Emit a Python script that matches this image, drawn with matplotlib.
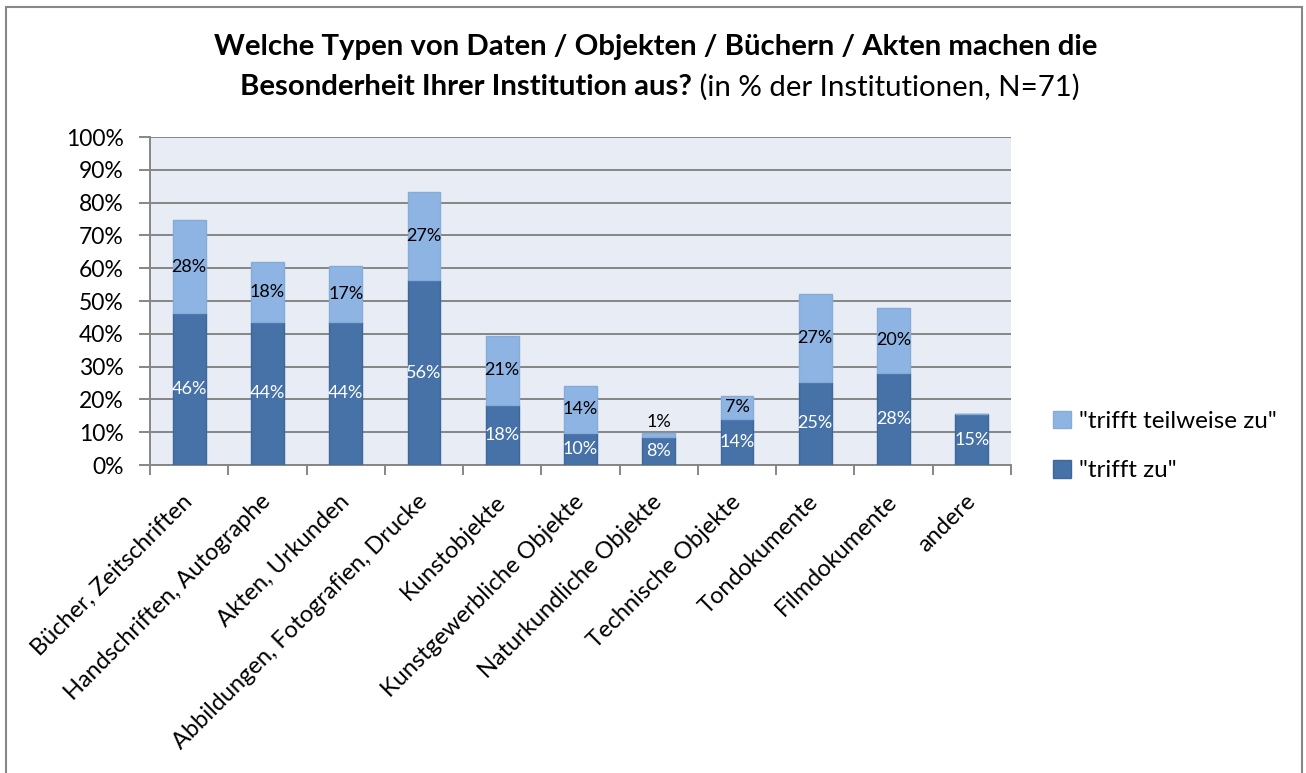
import matplotlib
matplotlib.use("Agg")
import matplotlib.pyplot as plt
from matplotlib.patches import Rectangle
import numpy as np

plt.rcParams['font.family'] = ['Lato', 'DejaVu Sans']

categories = ["Bücher, Zeitschriften", "Handschriften, Autographe", "Akten, Urkunden",
              "Abbildungen, Fotografien, Drucke", "Kunstobjekte", "Kunstgewerbliche Objekte",
              "Naturkundliche Objekte", "Technische Objekte", "Tondokumente",
              "Filmdokumente", "andere"]
trifft_zu = [46.4, 43.7, 43.7, 56.3, 18.3, 9.9, 8.4, 14.1, 25.4, 28.2, 15.4]
trifft_teilweise = [28.2, 18.3, 16.9, 26.8, 21.1, 14.1, 1.4, 7.0, 26.8, 19.7, 0.0]
yticks = [0, 10, 20, 30, 40, 50, 60, 70, 80, 90, 100]

dark = "#4672A8"
light = "#8EB4E3"
W, H = 1306, 773
fig = plt.figure(figsize=(W / 100, H / 100), dpi=100)
fig.patch.set_facecolor("white")

def fx(px):
    return px / W

def fy(py):
    return 1 - py / H

ax = fig.add_axes([fx(150), fy(465), fx(1011) - fx(150), fy(137) - fy(465)])
ax.set_facecolor("#E8ECF4")
x = np.arange(len(categories))
bw = 0.42
b1 = ax.bar(x, trifft_zu, bw, color=dark, edgecolor="#3F679A", linewidth=1, zorder=3,
            label='"trifft zu"')
b2 = ax.bar(x, trifft_teilweise, bw, bottom=trifft_zu, color=light, edgecolor="#86ABD8",
            linewidth=1, zorder=3, label='"trifft teilweise zu"')

for i in range(len(categories)):
    v1, v2 = trifft_zu[i], trifft_teilweise[i]
    ax.text(x[i], v1 / 2, f"{v1:.0f}%", ha="center", va="center", color="white",
            fontsize=13, zorder=4)
    if v2 > 0:
        if v2 < 3:
            ax.text(x[i], v1 + v2 + 1.0, f"{v2:.0f}%", ha="center", va="bottom",
                    color="black", fontsize=13, zorder=4)
        else:
            ax.text(x[i], v1 + v2 / 2, f"{v2:.0f}%", ha="center", va="center",
                    color="black", fontsize=13, zorder=4)

ax.set_xlim(-0.5, len(categories) - 0.5)
ax.set_ylim(0, 100)
ax.set_yticks(yticks)
ax.set_yticklabels([f"{t}%" for t in yticks], fontsize=16.5)
ax.yaxis.grid(True, color="#868686", linewidth=1.4, zorder=1)
ax.set_axisbelow(True)
ax.tick_params(axis="y", length=8, width=1.4, color="#868686", pad=11)

ax.set_xticks(x)
ax.set_xticklabels(categories, rotation=45, ha="right", va="center",
                   rotation_mode="anchor", fontsize=17)
ax.tick_params(axis="x", which="major", length=0, pad=24)
ax.set_xticks(np.arange(-0.5, len(categories), 1.0), minor=True)
ax.tick_params(axis="x", which="minor", length=7, width=1.4, color="#868686")

for s in ["top", "right"]:
    ax.spines[s].set_visible(False)
for s in ["left", "bottom"]:
    ax.spines[s].set_color("#868686")
    ax.spines[s].set_linewidth(1.4)

fig.legend(handles=[b2, b1], loc="center left", bbox_to_anchor=(fx(1041), fy(446)),
           frameon=False, fontsize=17.5, handlelength=0.75, handleheight=0.75,
           handletextpad=0.3, labelspacing=1.15, borderpad=0)

# Title
fig.text(fx(656), fy(47), "Welche Typen von Daten / Objekten / Büchern / Akten machen die",
         ha="center", va="center", fontsize=21.2, fontweight="bold")
t_bold = fig.text(0, fy(87), "Besonderheit Ihrer Institution aus?", ha="left",
                  va="center", fontsize=21.2, fontweight="bold")
t_norm = fig.text(0, fy(87), " (in % der Institutionen, N=71)", ha="left", va="center",
                  fontsize=21.2)
fig.canvas.draw()
r = fig.canvas.get_renderer()
wb = t_bold.get_window_extent(r).width
wn = t_norm.get_window_extent(r).width
start = 660 - (wb + wn) / 2
t_bold.set_x(fx(start))
t_norm.set_x(fx(start + wb))

# chart border
fig.patches.append(Rectangle((fx(6), -0.05), fx(1302) - fx(6), fy(7) + 0.05,
                             transform=fig.transFigure, fill=False,
                             edgecolor="#888888", linewidth=1.5))

fig.savefig("out.png", dpi=100)
